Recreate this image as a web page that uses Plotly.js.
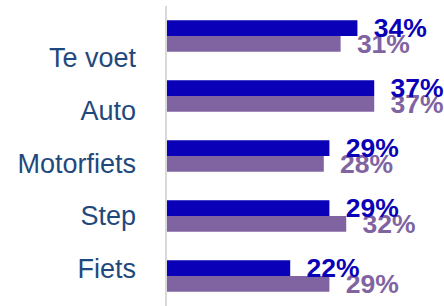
<!DOCTYPE html>
<html>
<head>
<meta charset="utf-8">
<script src="https://cdn.plot.ly/plotly-3.0.1.min.js"></script>
<style>html,body{margin:0;padding:0;background:#fff;}#chart{width:444px;height:306px;}</style>
</head>
<body>
<div id="chart"></div>
<script>
// Categories in reading order (top to bottom)
const categories = ['Te voet', 'Auto', 'Motorfiets', 'Step', 'Fiets'];
// Series values (percent)
const seriesA = [34, 37, 29, 29, 22]; // dark blue (upper bar)
const seriesB = [31, 37, 28, 32, 29]; // purple (lower bar)

const blue = '#0A00B8';
const purple = '#8064A2';
const labelFont = 'Liberation Sans, Arial, sans-serif';
const pad = '\u2002';

const traces = [
  {
    type: 'bar', orientation: 'h', name: 'B',
    y: categories, x: seriesB,
    marker: {color: purple},
    text: seriesB.map(v => pad + v + '%'),
    textposition: 'outside', constraintext: 'none', cliponaxis: false,
    textfont: {family: labelFont, size: 26.5, color: purple, weight: 'bold'},
    hoverinfo: 'skip'
  },
  {
    type: 'bar', orientation: 'h', name: 'A',
    y: categories, x: seriesA,
    marker: {color: blue},
    text: seriesA.map(v => pad + v + '%'),
    textposition: 'outside', constraintext: 'none', cliponaxis: false,
    textfont: {family: labelFont, size: 26.5, color: blue, weight: 'bold'},
    hoverinfo: 'skip'
  },
  {
    type: 'scatter', mode: 'markers', yaxis: 'y2',
    y: categories, x: categories.map(() => 0),
    marker: {opacity: 0, size: 1}, hoverinfo: 'skip', showlegend: false
  }
];

const order = categories.slice().reverse();

const layout = {
  width: 444, height: 306,
  margin: {l: 167, r: 0, t: 6, b: 0, pad: 0},
  paper_bgcolor: '#ffffff', plot_bgcolor: '#ffffff',
  showlegend: false,
  barmode: 'group', bargap: 0.478, bargroupgap: 0,
  xaxis: {range: [0, 49.46], visible: false, fixedrange: true},
  yaxis: {
    type: 'category', categoryorder: 'array', categoryarray: order,
    range: [-0.5, 4.5],
    showticklabels: false, ticks: '',
    showline: true, linecolor: '#D9D9D9', linewidth: 2,
    showgrid: false, zeroline: false, fixedrange: true
  },
  yaxis2: {
    type: 'category', categoryorder: 'array', categoryarray: order,
    overlaying: 'y', side: 'left',
    range: [-0.715, 4.989],
    ticks: '', ticklabelstandoff: 30,
    tickfont: {family: labelFont, size: 27, color: '#1F497D'},
    showline: false, showgrid: false, zeroline: false, fixedrange: true
  }
};

Plotly.newPlot('chart', traces, layout, {displayModeBar: false, staticPlot: true});
</script>
</body>
</html>
